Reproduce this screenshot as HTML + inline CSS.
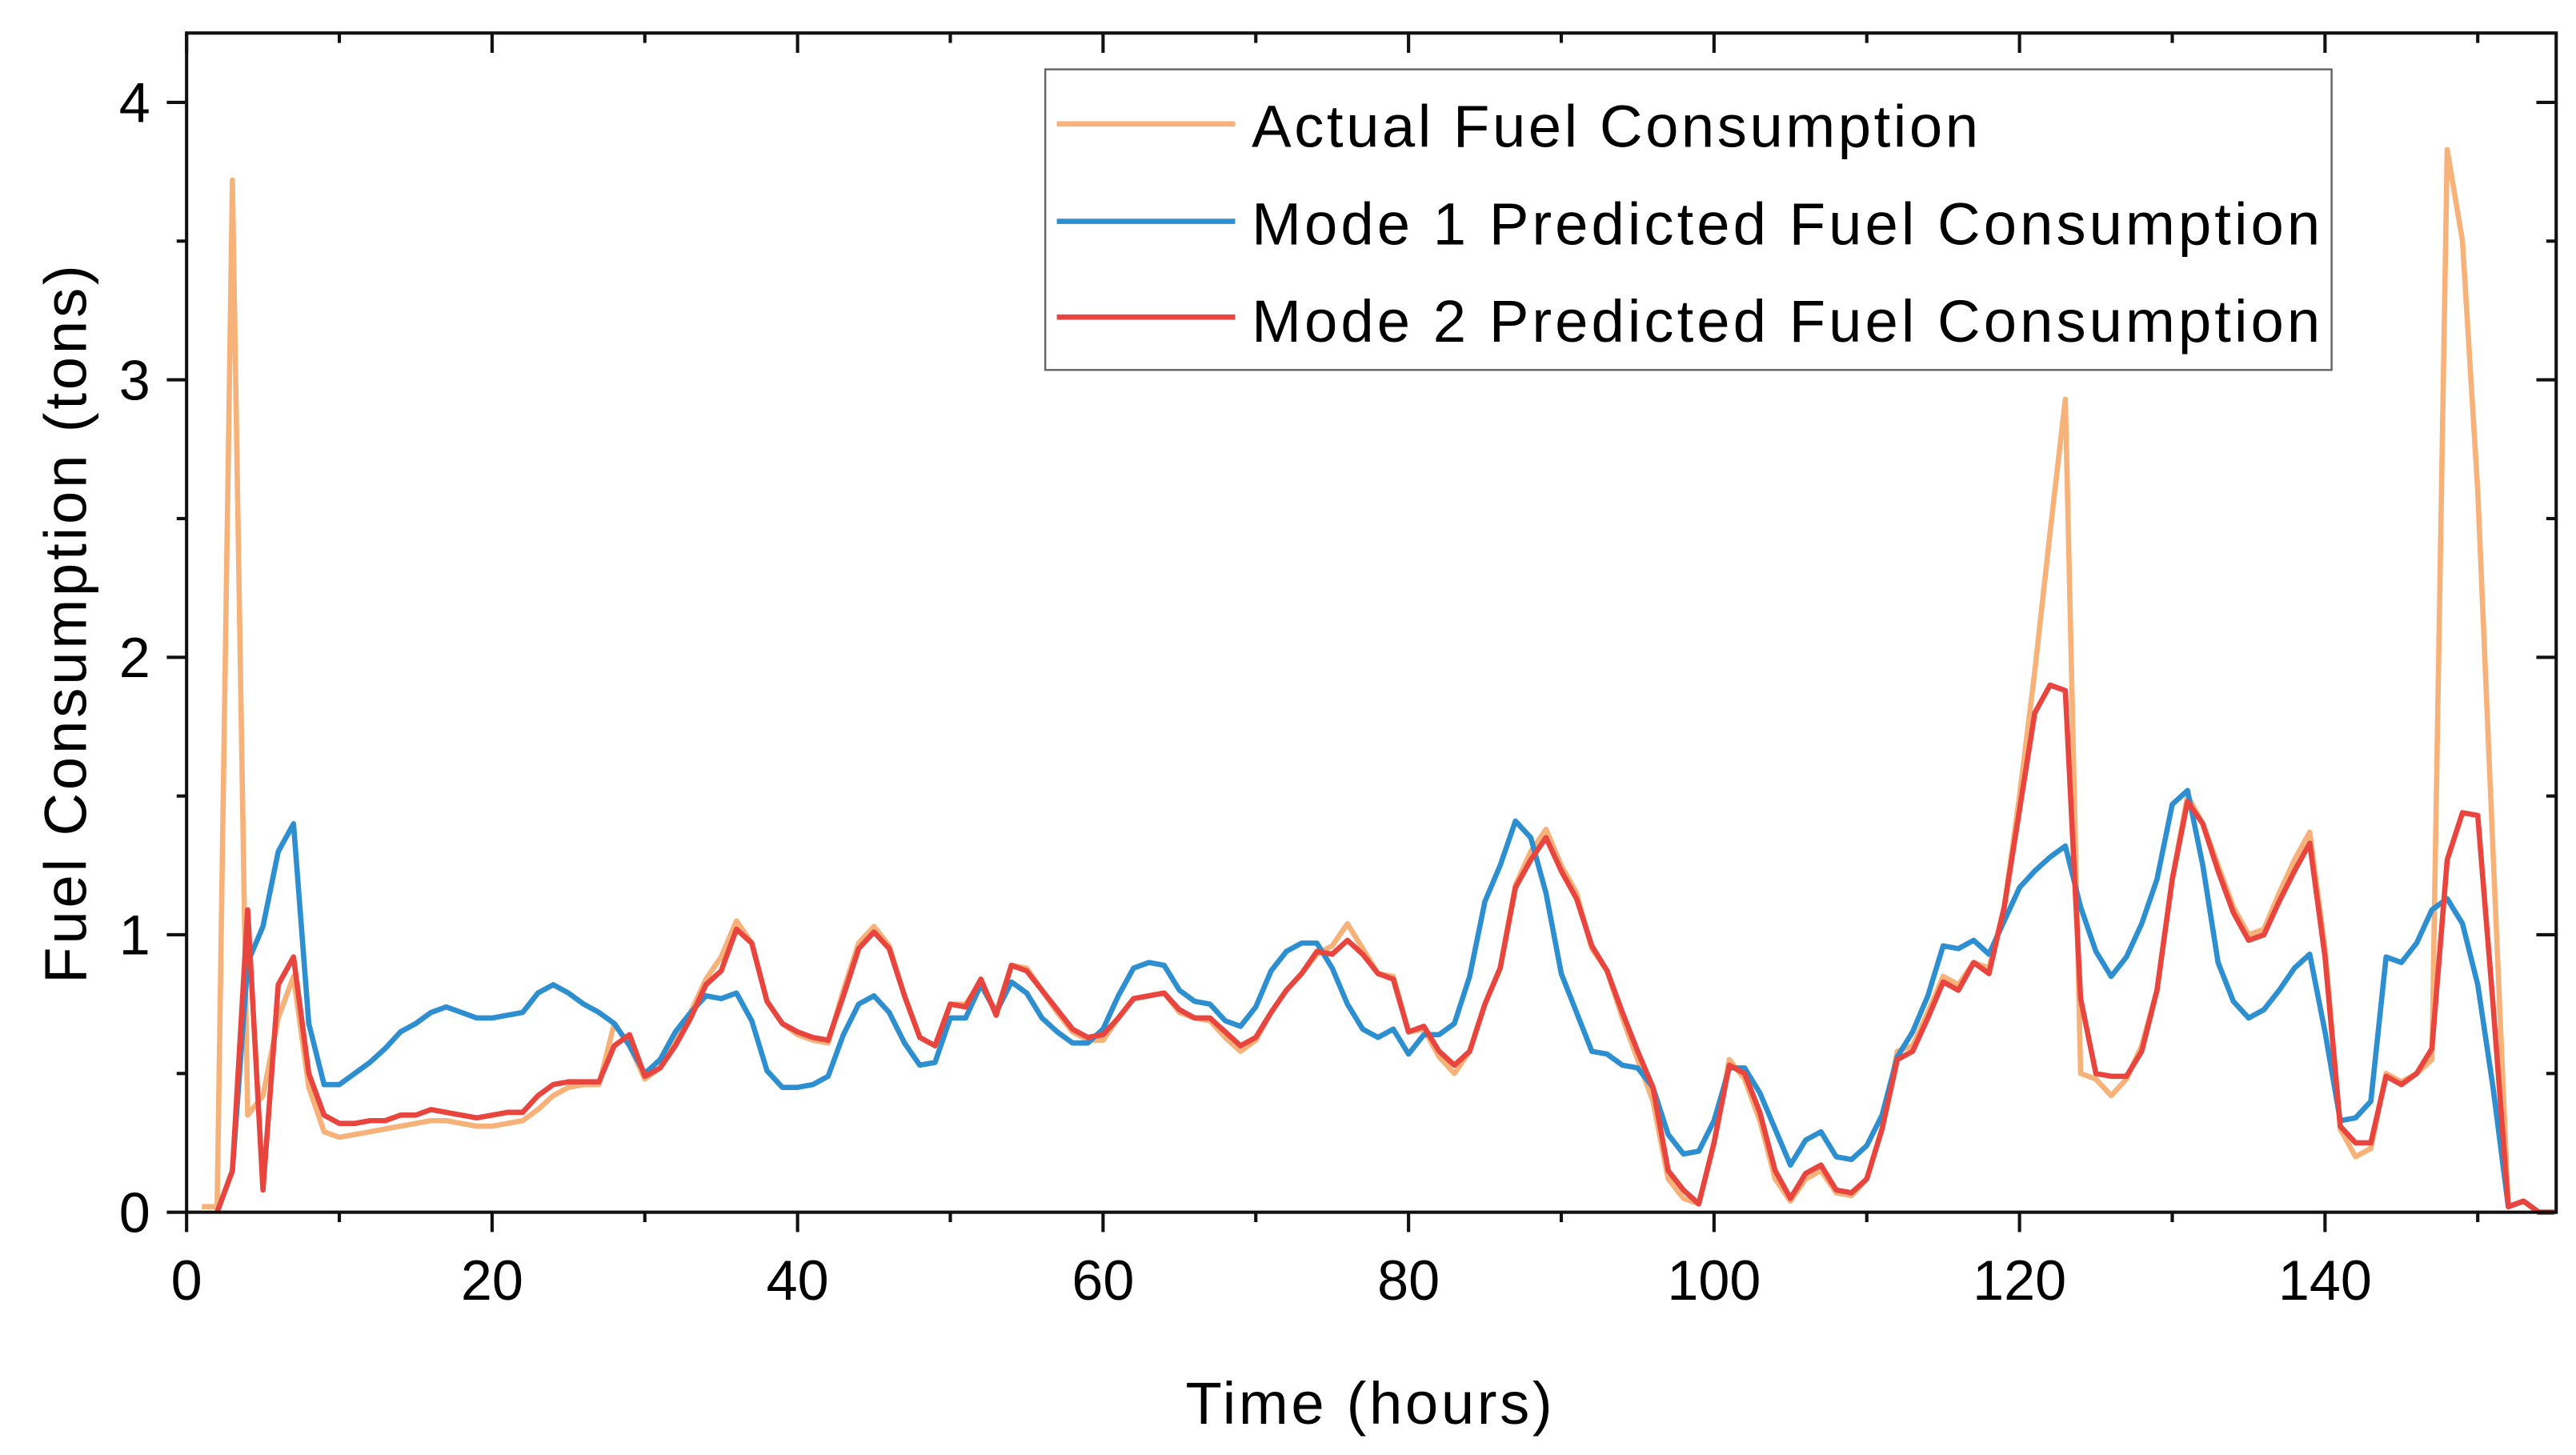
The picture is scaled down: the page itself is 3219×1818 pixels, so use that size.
<!DOCTYPE html>
<html><head><meta charset="utf-8"><style>
html,body{margin:0;padding:0;background:#fff;}
svg{display:block;font-family:"Liberation Sans",sans-serif;}
</style></head><body>
<svg id="chart" width="3219" height="1818" viewBox="0 0 1560 881" preserveAspectRatio="none" xmlns="http://www.w3.org/2000/svg">
<rect width="1560" height="881" fill="#fff"/>
<g id="series"></g>
<g id="axes"></g>
<g id="legend">
  <rect x="633" y="42" width="779" height="182" fill="#fff" stroke="#666" stroke-width="1.2"/>
  <line x1="640" y1="75" x2="748" y2="75" stroke="#f7b27a" stroke-width="3.2"/>
  <text x="758" y="89" font-size="36" textLength="440">Actual Fuel Consumption</text>
  <line x1="640" y1="134" x2="748" y2="134" stroke="#2e8fd0" stroke-width="3.2"/>
  <text x="758" y="148" font-size="36" textLength="647">Mode 1 Predicted Fuel Consumption</text>
  <line x1="640" y1="192" x2="748" y2="192" stroke="#e8453f" stroke-width="3.2"/>
  <text x="758" y="207" font-size="36" textLength="647">Mode 2 Predicted Fuel Consumption</text>
</g>
<text x="829" y="862" font-size="36" text-anchor="middle" textLength="222">Time (hours)</text>
<text transform="translate(52,378) rotate(-90)" font-size="36" text-anchor="middle" textLength="435">Fuel Consumption (tons)</text>
</svg>
<script>
const hours = Array.from({length:155},(_, i)=>i+1);
const actual = [0.02,0.02,3.72,0.35,0.42,0.7,0.85,0.45,0.29,0.27,0.28,0.29,0.3,0.31,0.32,0.33,0.33,0.32,0.31,0.31,0.32,0.33,0.37,0.42,0.45,0.46,0.46,0.68,0.6,0.48,0.52,0.62,0.72,0.84,0.92,1.05,0.97,0.76,0.68,0.64,0.62,0.61,0.8,0.97,1.03,0.96,0.78,0.63,0.6,0.75,0.75,0.83,0.72,0.89,0.88,0.8,0.72,0.65,0.62,0.62,0.7,0.77,0.78,0.79,0.72,0.7,0.69,0.63,0.58,0.62,0.72,0.8,0.86,0.93,0.96,1.04,0.95,0.86,0.85,0.65,0.66,0.56,0.5,0.58,0.75,0.88,1.18,1.3,1.38,1.25,1.15,0.95,0.87,0.7,0.55,0.4,0.12,0.05,0.03,0.25,0.55,0.48,0.33,0.12,0.04,0.12,0.15,0.07,0.06,0.12,0.3,0.58,0.6,0.72,0.85,0.82,0.9,0.88,1.1,1.5,1.95,2.45,2.93,0.5,0.48,0.42,0.48,0.6,0.8,1.2,1.5,1.4,1.25,1.1,1.0,1.02,1.15,1.27,1.37,0.95,0.3,0.2,0.23,0.5,0.47,0.5,0.55,3.83,3.5,2.6,1.3,0.02,0.04,0.0,0.0];
const mode1 = [null,0.0,0.15,0.9,1.03,1.3,1.4,0.68,0.46,0.46,0.5,0.54,0.59,0.65,0.68,0.72,0.74,0.72,0.7,0.7,0.71,0.72,0.79,0.82,0.79,0.75,0.72,0.68,0.6,0.5,0.55,0.65,0.72,0.78,0.77,0.79,0.69,0.51,0.45,0.45,0.46,0.49,0.64,0.75,0.78,0.72,0.61,0.53,0.54,0.7,0.7,0.82,0.72,0.83,0.79,0.7,0.65,0.61,0.61,0.66,0.78,0.88,0.9,0.89,0.8,0.76,0.75,0.69,0.67,0.74,0.87,0.94,0.97,0.97,0.88,0.75,0.66,0.63,0.66,0.57,0.64,0.64,0.68,0.85,1.12,1.25,1.41,1.35,1.15,0.86,0.72,0.58,0.57,0.53,0.52,0.45,0.28,0.21,0.22,0.33,0.52,0.52,0.43,0.3,0.17,0.26,0.29,0.2,0.19,0.24,0.35,0.56,0.65,0.78,0.96,0.95,0.98,0.93,1.05,1.17,1.23,1.28,1.32,1.1,0.94,0.85,0.92,1.04,1.2,1.47,1.52,1.25,0.9,0.76,0.7,0.73,0.8,0.88,0.93,0.65,0.33,0.34,0.4,0.92,0.9,0.97,1.09,1.13,1.04,0.82,0.45,0.02,0.04,0.0,0.0];
const mode2 = [null,0.0,0.15,1.09,0.08,0.82,0.92,0.5,0.35,0.32,0.32,0.33,0.33,0.35,0.35,0.37,0.36,0.35,0.34,0.35,0.36,0.36,0.42,0.46,0.47,0.47,0.47,0.6,0.64,0.49,0.52,0.6,0.7,0.82,0.87,1.02,0.97,0.76,0.68,0.65,0.63,0.62,0.78,0.95,1.01,0.95,0.78,0.63,0.6,0.75,0.74,0.84,0.71,0.89,0.87,0.8,0.73,0.66,0.63,0.64,0.7,0.77,0.78,0.79,0.73,0.7,0.7,0.65,0.6,0.63,0.72,0.8,0.86,0.94,0.93,0.98,0.93,0.86,0.84,0.65,0.67,0.58,0.53,0.58,0.75,0.88,1.17,1.27,1.35,1.23,1.13,0.96,0.87,0.72,0.58,0.45,0.15,0.08,0.03,0.25,0.53,0.5,0.36,0.15,0.05,0.14,0.17,0.08,0.07,0.12,0.3,0.55,0.58,0.7,0.83,0.8,0.9,0.86,1.1,1.45,1.8,1.9,1.88,0.77,0.5,0.49,0.49,0.58,0.8,1.2,1.48,1.4,1.23,1.08,0.98,1.0,1.12,1.23,1.33,0.92,0.31,0.25,0.25,0.49,0.46,0.5,0.59,1.27,1.44,1.43,0.75,0.02,0.04,0.0,0.0];
const xTicks = [0,20,40,60,80,100,120,140];
const xMinor = [10,30,50,70,90,110,130,150];
const yTicks = [0,1,2,3,4];
const yMinor = [0.5,1.5,2.5,3.5];

const L=113,R=1548,T=20,B=734;
const xs = h => L + (h-0)*(1408-113)/140;
const ys = v => B - v*(734-62)/4;
const NS='http://www.w3.org/2000/svg';
function mk(tag, attrs, parent){const e=document.createElementNS(NS,tag);for(const k in attrs)e.setAttribute(k,attrs[k]);parent.appendChild(e);return e;}

const sg=document.getElementById('series');
function drawSeries(vals,color,name){
  let d='';let started=false;
  vals.forEach((v,i)=>{ if(v===null) return; d+=(started?'L':'M')+xs(hours[i]).toFixed(2)+','+ys(v).toFixed(2); started=true;});
  const p=mk('path',{d:d,fill:'none',stroke:color,'stroke-width':3.2,'stroke-linejoin':'round'},sg);
  
  
}
drawSeries(actual,'#f7b27a','actual-fuel-line');
drawSeries(mode1,'#2e8fd0','mode1-predicted-line');
drawSeries(mode2,'#e8453f','mode2-predicted-line');

const ag=document.getElementById('axes');
const frame=mk('rect',{x:L,y:T,width:R-L,height:B-T,fill:'none',stroke:'#111','stroke-width':2},ag);


xTicks.forEach(t=>{
  const x=xs(t);
  mk('line',{x1:x,y1:B,x2:x,y2:B+12,stroke:'#111','stroke-width':2},ag);
  mk('line',{x1:x,y1:T,x2:x,y2:T+12,stroke:'#111','stroke-width':2},ag);
  const tx=mk('text',{x:x,y:787,'font-size':34,'text-anchor':'middle'},ag);
  tx.textContent=t;
  
  
});
xMinor.forEach(t=>{
  const x=xs(t);
  mk('line',{x1:x,y1:B,x2:x,y2:B+6,stroke:'#111','stroke-width':2},ag);
  mk('line',{x1:x,y1:T,x2:x,y2:T+6,stroke:'#111','stroke-width':2},ag);
});
yTicks.forEach(t=>{
  const y=ys(t);
  mk('line',{x1:L-12,y1:y,x2:L,y2:y,stroke:'#111','stroke-width':2},ag);
  mk('line',{x1:R-12,y1:y,x2:R,y2:y,stroke:'#111','stroke-width':2},ag);
  const tx=mk('text',{x:91,y:y+12,'font-size':34,'text-anchor':'end'},ag);
  tx.textContent=t;
  
  
});
yMinor.forEach(t=>{
  const y=ys(t);
  mk('line',{x1:L-6,y1:y,x2:L,y2:y,stroke:'#111','stroke-width':2},ag);
  mk('line',{x1:R-6,y1:y,x2:R,y2:y,stroke:'#111','stroke-width':2},ag);
});
</script>
</body></html>
